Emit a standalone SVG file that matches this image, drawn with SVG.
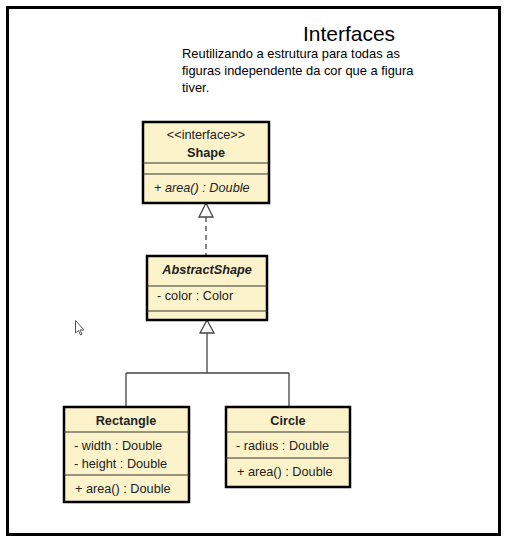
<svg xmlns="http://www.w3.org/2000/svg" width="508" height="544" viewBox="0 0 508 544">
<style>
.box{fill:#fcf3cb;stroke:#000;stroke-width:2.5}
.sep{stroke:#333;stroke-width:1.2}
.t{font-family:"Liberation Sans",Arial,sans-serif;font-size:12.7px;fill:#222}
.c{text-anchor:middle}
.b{font-weight:bold}
.i{font-style:italic}
.conn{fill:none;stroke:#444;stroke-width:1.3}
.head{fill:#fff;stroke:#444;stroke-width:1.3}
</style>
<rect x="0" y="0" width="508" height="544" fill="#fff"/>
<rect x="7.5" y="7.5" width="492" height="527" fill="none" stroke="#000" stroke-width="3"/>
<text x="349" y="41" class="c" font-family="Liberation Sans,Arial,sans-serif" font-size="21" fill="#000">Interfaces</text>
<g font-family="Liberation Sans,Arial,sans-serif" font-size="12.9" fill="#000">
<text x="182" y="58">Reutilizando a estrutura para todas as</text>
<text x="182" y="75">figuras independente da cor que a figura</text>
<text x="182" y="92">tiver.</text>
</g>
<g id="connectors">
<path class="conn" d="M206 217 V255" stroke-dasharray="5,4"/>
<path class="head" d="M206 203 L199 217 L213 217 Z"/>
<path class="conn" d="M207 333 V373 M126 373 H289 M126 373 V406 M289 373 V406"/>
<path class="head" d="M207 320 L200 333 L214 333 Z"/>
</g>
<g id="Shape">
<rect class="box" x="143" y="122" width="126" height="81"/>
<line class="sep" x1="143" y1="163" x2="269" y2="163"/>
<line class="sep" x1="143" y1="174" x2="269" y2="174"/>
<text class="t c" x="206" y="139" font-size="11.5">&lt;&lt;interface&gt;&gt;</text>
<text class="t c b" x="206" y="157">Shape</text>
<text class="t i" x="154" y="192" font-size="13.3">+ area() : Double</text>
</g>
<g id="AbstractShape">
<rect class="box" x="147" y="256" width="120" height="64"/>
<line class="sep" x1="147" y1="286" x2="267" y2="286"/>
<line class="sep" x1="147" y1="311" x2="267" y2="311"/>
<text class="t c b i" x="207" y="274">AbstractShape</text>
<text class="t" x="157" y="300">- color : Color</text>
</g>
<g id="Rectangle">
<rect class="box" x="64" y="407" width="125" height="95"/>
<line class="sep" x1="64" y1="432" x2="189" y2="432"/>
<line class="sep" x1="64" y1="475" x2="189" y2="475"/>
<text class="t c b" x="126" y="425">Rectangle</text>
<text class="t" x="74" y="450">- width : Double</text>
<text class="t" x="74" y="468">- height : Double</text>
<text class="t" x="75" y="493">+ area() : Double</text>
</g>
<g id="Circle">
<rect class="box" x="226" y="407" width="124" height="80"/>
<line class="sep" x1="226" y1="432" x2="350" y2="432"/>
<line class="sep" x1="226" y1="458" x2="350" y2="458"/>
<text class="t c b" x="288" y="425">Circle</text>
<text class="t" x="236" y="450">- radius : Double</text>
<text class="t" x="237" y="476">+ area() : Double</text>
</g>
<path d="M75.5 320.5 V333 L78.5 330.5 L80.5 335 L82 334.3 L80 330 L84 330 Z" fill="#fff" stroke="#555" stroke-width="1"/>
</svg>
